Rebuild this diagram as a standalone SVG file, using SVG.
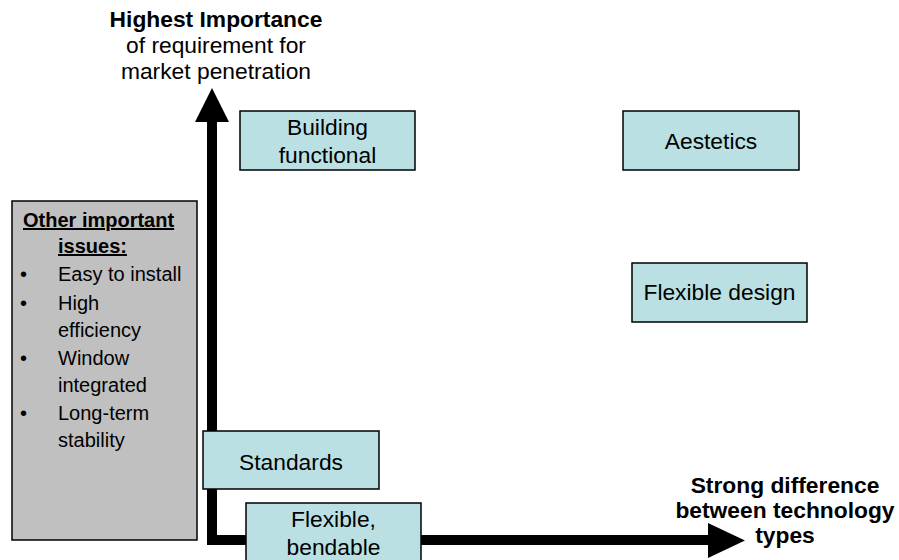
<svg xmlns="http://www.w3.org/2000/svg" width="899" height="560" viewBox="0 0 899 560">
<style>
  .box{fill:#BBE0E3;stroke:#000;stroke-width:1.5}
  .t{font-family:"Liberation Sans",Arial,sans-serif;font-size:22.8px;fill:#000;text-anchor:middle}
  .b{font-weight:bold}
  .s{font-family:"Liberation Sans",Arial,sans-serif;font-size:20px;fill:#000}
</style>
<rect width="899" height="560" fill="#fff"/>
<g id="connectors">
  <path d="M195,122 L212,88 L229,122 L217,122 L217,535 L708,535 L708,523 L745,540.5 L708,558 L708,545 L207,545 L207,122 Z" fill="#000"/>
</g>
<g id="y-axis-label">
  <text class="t b" x="216" y="27">Highest Importance</text>
  <text class="t" x="216" y="53">of requirement for</text>
  <text class="t" x="216" y="79">market penetration</text>
</g>
<g id="x-axis-label">
  <text class="t b" x="785" y="493">Strong difference</text>
  <text class="t b" x="785" y="518">between technology</text>
  <text class="t b" x="785" y="543">types</text>
</g>
<g id="other-issues">
  <rect x="12" y="201" width="185" height="339" fill="#C0C0C0" stroke="#000" stroke-width="1.5"/>
  <text class="s b" x="23" y="227" font-size="20.5" text-decoration="underline">Other important</text>
  <text class="s b" x="58" y="253" font-size="20.5" text-decoration="underline">issues:</text>
  <text class="s" x="20" y="281">•</text><text class="s" x="58" y="281">Easy to install</text>
  <text class="s" x="20" y="310">•</text><text class="s" x="58" y="310">High</text>
  <text class="s" x="58" y="337">efficiency</text>
  <text class="s" x="20" y="365">•</text><text class="s" x="58" y="365">Window</text>
  <text class="s" x="58" y="392">integrated</text>
  <text class="s" x="20" y="420">•</text><text class="s" x="58" y="420">Long-term</text>
  <text class="s" x="58" y="447">stability</text>
</g>
<g id="building-functional">
  <rect class="box" x="240" y="111" width="175" height="59"/>
  <text class="t" x="327.5" y="135">Building</text>
  <text class="t" x="327.5" y="163">functional</text>
</g>
<g id="aestetics">
  <rect class="box" x="623" y="111" width="176" height="59"/>
  <text class="t" x="711" y="149">Aestetics</text>
</g>
<g id="flexible-design">
  <rect class="box" x="632" y="263" width="175" height="59"/>
  <text class="t" x="719.5" y="300">Flexible design</text>
</g>
<g id="standards">
  <rect class="box" x="203" y="431" width="176" height="58"/>
  <text class="t" x="291" y="470">Standards</text>
</g>
<g id="flexible-bendable">
  <rect class="box" x="246" y="503" width="175" height="60"/>
  <text class="t" x="333.5" y="527">Flexible,</text>
  <text class="t" x="333.5" y="555">bendable</text>
</g>
</svg>
